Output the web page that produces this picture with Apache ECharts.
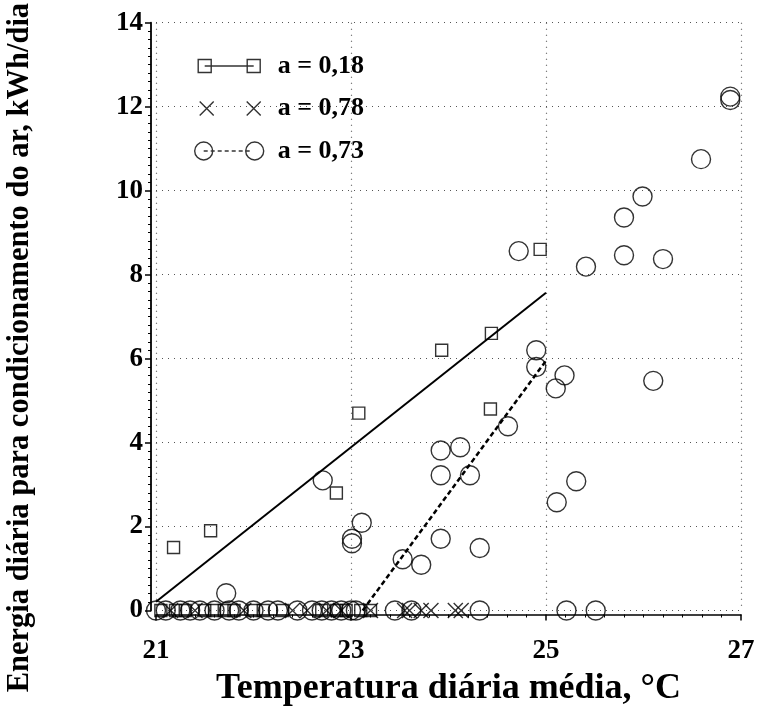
<!DOCTYPE html>
<html><head><meta charset="utf-8">
<script src="https://cdn.jsdelivr.net/npm/echarts@6/dist/echarts.min.js"></script>
<style>html,body{margin:0;padding:0;background:#fff}#c{width:765px;height:709px}</style>
</head><body><div id="c"></div>
<script>
// Axis ticks
const xTickValues = [21, 23, 25, 27];
const yTickValues = [0, 2, 4, 6, 8, 10, 12, 14];

// a = 0,18 (squares)
const sqX = [21.18, 21.56, 22.85, 23.08, 23.93, 24.44, 24.43, 24.94,
  21.05, 21.2, 21.3, 21.5, 21.6, 21.7, 21.8, 22.0, 22.1, 22.3, 22.7, 22.85, 22.95, 23.1, 23.2];
const sqY = [1.5, 1.9, 2.8, 4.7, 6.2, 6.6, 4.8, 8.6,
  0, 0, 0, 0, 0, 0, 0, 0, 0, 0, 0, 0, 0, 0, 0];

// a = 0,78 (crosses)
const crX = [21.15, 21.4, 21.9, 22.4, 22.55, 22.75, 22.9, 23.2, 23.55, 23.6, 23.72, 23.82, 24.07, 24.13];
const crY = [0, 0, 0, 0, 0, 0, 0, 0, 0, 0, 0, 0, 0, 0];

// a = 0,73 (circles)
const ciX = [21.72, 22.71, 23.01, 23.01, 23.11, 23.53, 23.72, 23.92, 24.12, 23.92, 24.22, 23.92, 24.32,
  24.61, 24.90, 24.90, 25.19, 25.10, 25.31, 25.11, 24.72, 25.41, 25.80, 26.20, 25.80, 25.99, 26.10,
  26.59, 26.89, 26.89,
  21.0, 21.1, 21.25, 21.35, 21.45, 21.6, 21.75, 21.85, 22.0, 22.15, 22.25, 22.45, 22.6, 22.7, 22.8,
  22.9, 23.0, 23.05, 23.45, 23.62, 24.32, 25.21, 25.51];
const ciY = [0.41, 3.1, 1.71, 1.6, 2.09, 1.22, 1.09, 3.81, 3.89, 3.22, 3.22, 1.71, 1.49,
  4.39, 6.2, 5.8, 5.6, 5.29, 3.08, 2.58, 8.56, 8.19, 8.46, 8.37, 9.36, 9.86, 5.47,
  10.75, 12.24, 12.16,
  0, 0, 0, 0, 0, 0, 0, 0, 0, 0, 0, 0, 0, 0, 0,
  0, 0, 0, 0, 0, 0, 0, 0];

// Fitted lines
const fitAX = [21, 25];
const fitAY = [0.21, 7.57];
const fitCX = [23.12, 25];
const fitCY = [0, 5.95];

const names = ['a = 0,18', 'a = 0,78', 'a = 0,73'];

const zip = (a, b) => a.map((v, i) => [v, b[i]]);
const FONT = '"Liberation Serif", "Times New Roman", serif';

const iconSquare = 'path://M0,0M70,20M4.5,3.5L17.5,3.5L17.5,16.5L4.5,16.5ZM53.5,3.5L66.5,3.5L66.5,16.5L53.5,16.5ZM11,10L60,10';
const iconCross = 'path://M0,0M70,20M6,3L20,17M20,3L6,17M53,3L67,17M67,3L53,17';
let dash = '';
for (let s = 10; s < 54; s += 7) dash += 'M' + s + ',10L' + (s + 4) + ',10';
const iconCircle = 'path://M0,0M70,20M1,10A9,9,0,1,0,19,10A9,9,0,1,0,1,10M52,10A9,9,0,1,0,70,10A9,9,0,1,0,52,10' + dash;

const hollow = { color: 'rgba(0,0,0,0)', borderColor: '#000', borderWidth: 1.4 };

const chart = echarts.init(document.getElementById('c'), null, { renderer: 'canvas' });
chart.setOption({
  animation: false,
  backgroundColor: '#fff',
  grid: { left: 156, right: 24, top: 22.7, bottom: 98.5, containLabel: false, outerBoundsMode: 'none' },
  legend: {
    orient: 'vertical', left: 193, top: 53, padding: 0, itemWidth: 70, itemHeight: 20, itemGap: 16.5,
    selectedMode: false,
    itemStyle: { color: 'rgba(0,0,0,0)', borderColor: '#000', borderWidth: 1.4 },
    textStyle: { fontFamily: FONT, fontWeight: 'bold', fontSize: 26, color: '#000', lineHeight: 22, padding: [0, 0, 0, 9] },
    data: [
      { name: names[0], icon: iconSquare },
      { name: names[1], icon: iconCross },
      { name: names[2], icon: iconCircle }
    ]
  },
  xAxis: {
    type: 'value', min: xTickValues[0], max: xTickValues[xTickValues.length - 1],
    interval: xTickValues[1] - xTickValues[0], offset: 4,
    name: 'Temperatura diária média, °C', nameLocation: 'middle', nameGap: 56,
    nameTextStyle: { fontFamily: FONT, fontWeight: 'bold', fontSize: 36, color: '#000' },
    axisLine: { onZero: false, lineStyle: { color: '#000', width: 1.5 } },
    axisTick: { length: 6, lineStyle: { color: '#000', width: 1.5 } },
    minorTick: { show: true, splitNumber: 10, length: 3, lineStyle: { color: '#000' } },
    axisLabel: { margin: 23, fontFamily: FONT, fontWeight: 'bold', fontSize: 27, color: '#000' },
    splitLine: { show: true, lineStyle: { color: '#555', type: [1, 5], width: 1.2 } }
  },
  yAxis: {
    type: 'value', min: yTickValues[0], max: yTickValues[yTickValues.length - 1],
    interval: yTickValues[1] - yTickValues[0], offset: 5,
    name: 'Energia diária para condicionamento do ar, kWh/dia', nameLocation: 'middle', nameGap: 115,
    nameTextStyle: { fontFamily: FONT, fontWeight: 'bold', fontSize: 30.5, color: '#000', padding: [0, 62, 0, 0] },
    axisLine: { onZero: false, lineStyle: { color: '#000', width: 1.8 } },
    axisTick: { length: 6, lineStyle: { color: '#000', width: 1.5 } },
    minorTick: { show: true, splitNumber: 10, length: 3, lineStyle: { color: '#000' } },
    axisLabel: { margin: 8, fontFamily: FONT, fontWeight: 'bold', fontSize: 27, color: '#000' },
    splitLine: { show: true, lineStyle: { color: '#555', type: [1, 5], width: 1.2 } }
  },
  series: [
    { name: 'fit a = 0,18', type: 'line', data: zip(fitAX, fitAY), symbol: 'none', silent: true,
      lineStyle: { color: '#000', width: 2 }, z: 1 },
    { name: 'fit a = 0,73', type: 'line', data: zip(fitCX, fitCY), symbol: 'none', silent: true,
      lineStyle: { color: '#000', width: 2.5, type: [5, 3] }, z: 1 },
    { name: names[0], type: 'scatter', data: zip(sqX, sqY), symbol: 'rect', symbolSize: 12,
      itemStyle: hollow, z: 3 },
    { name: names[1], type: 'scatter', data: zip(crX, crY), symbol: 'path://M0,0L10,10M10,0L0,10', symbolSize: 15,
      itemStyle: hollow, z: 3 },
    { name: names[2], type: 'scatter', data: zip(ciX, ciY), symbol: 'circle', symbolSize: 19,
      itemStyle: hollow, z: 3 }
  ]
});
</script>
</body></html>
